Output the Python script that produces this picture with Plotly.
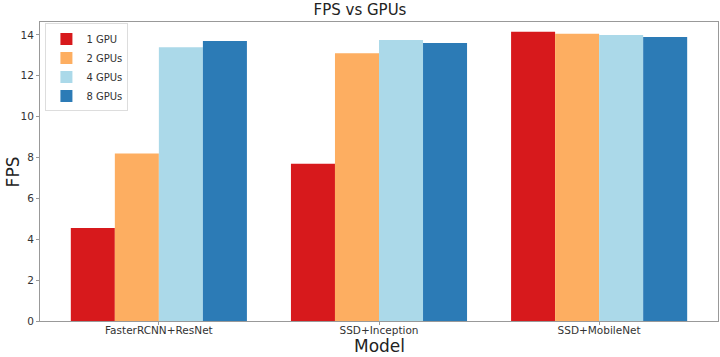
import plotly.graph_objects as go

models = ["FasterRCNN+ResNet", "SSD+Inception", "SSD+MobileNet"]
series_names = ["1 GPU", "2 GPUs", "4 GPUs", "8 GPUs"]
fps_1gpu = [4.55, 7.7, 14.15]
fps_2gpu = [8.2, 13.1, 14.05]
fps_4gpu = [13.4, 13.75, 14.0]
fps_8gpu = [13.7, 13.6, 13.9]
colors = ["#d7191c", "#fdae61", "#abd9e9", "#2c7bb6"]
y_ticks = [0, 2, 4, 6, 8, 10, 12, 14]

values = [fps_1gpu, fps_2gpu, fps_4gpu, fps_8gpu]
font = "DejaVu Sans"

fig = go.Figure()
for name, vals, col in zip(series_names, values, colors):
    fig.add_trace(go.Bar(x=models, y=vals, name=name, marker=dict(color=col, line=dict(width=0))))

fig.update_layout(
    width=720, height=357,
    margin=dict(l=40, r=2, t=22, b=36, autoexpand=False),
    paper_bgcolor="white", plot_bgcolor="white",
    barmode="group", bargap=0.2, bargroupgap=0,
    font=dict(family=font, size=10.5, color="#333333"),
    title=dict(text="FPS vs GPUs", x=0.5, xanchor="center", y=0.972, yanchor="middle",
               yref="container", font=dict(family=font, size=15, color="#222222")),
    legend=dict(x=0.008, y=0.995, xanchor="left", yanchor="top", bgcolor="rgba(255,255,255,0.9)",
                bordercolor="#dddddd", borderwidth=1, font=dict(family=font, size=10, color="#333333"),
                itemwidth=30, tracegroupgap=0),
    showlegend=True,
    annotations=[
        dict(text="Model", xref="paper", yref="paper", x=0.5, y=-0.082, xanchor="center", yanchor="middle",
             showarrow=False, font=dict(family=font, size=17, color="#222222")),
        dict(text="FPS", xref="paper", yref="paper", x=-0.04, y=0.5, xanchor="center", yanchor="middle",
             textangle=-90, showarrow=False, font=dict(family=font, size=17, color="#222222")),
    ],
)
fig.update_xaxes(
    range=[-0.54, 2.54], showline=True, linecolor="#999999", linewidth=1, mirror=True,
    ticks="outside", ticklen=3, tickcolor="#999999", showgrid=False, automargin=False,
    ticklabelstandoff=-4,
)
fig.update_yaxes(
    range=[0, 14.63], tickvals=y_ticks, showline=True, linecolor="#999999", linewidth=1, mirror=True,
    ticks="outside", ticklen=3, tickcolor="#999999", showgrid=False, zeroline=False, automargin=False,
)

fig.write_html("out.html", config={"displayModeBar": False},
               post_script="document.body.style.margin='0';")
